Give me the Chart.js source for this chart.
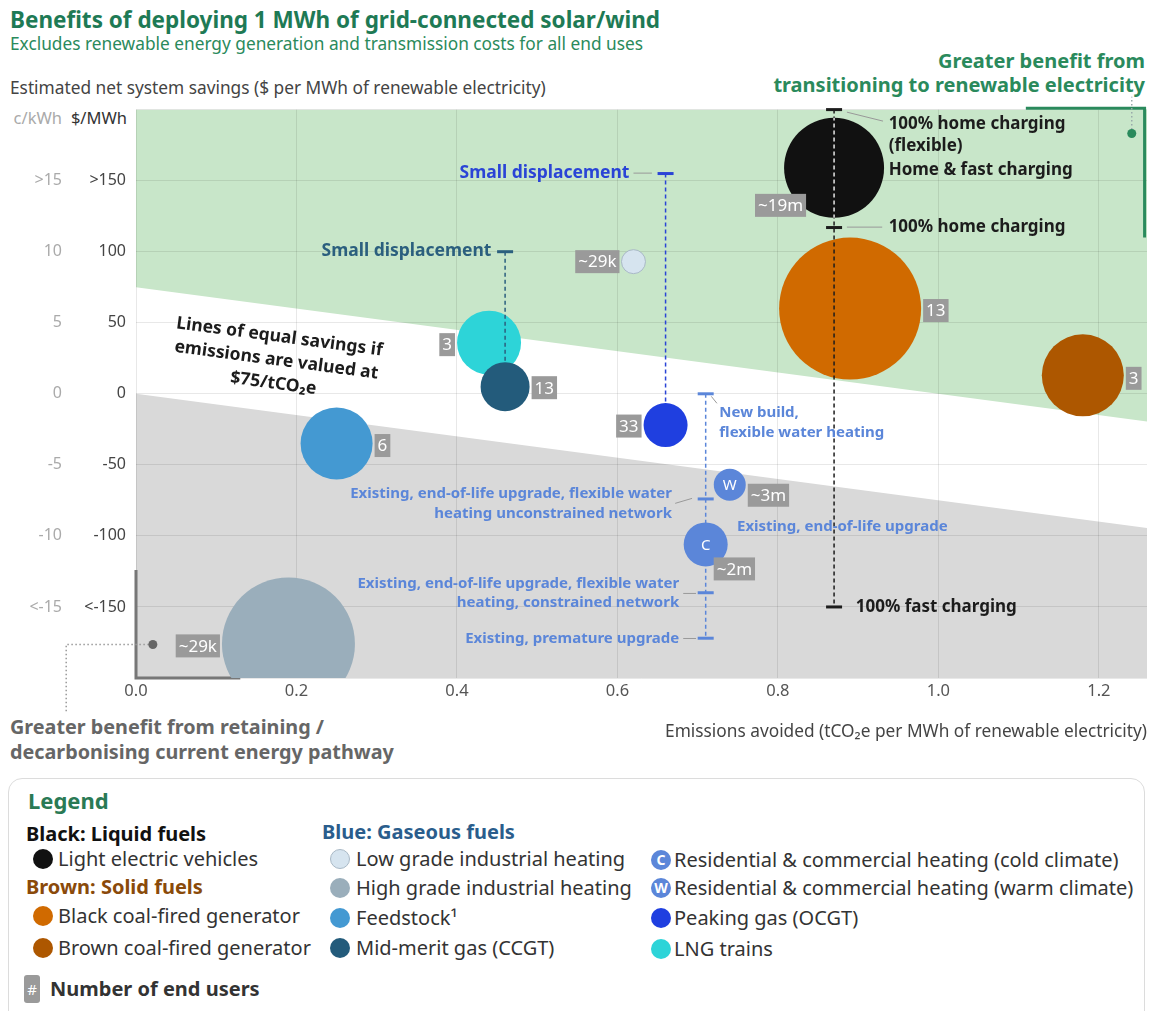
<!DOCTYPE html>
<html>
<head>
<meta charset="utf-8">
<title>Benefits of deploying 1 MWh of grid-connected solar/wind</title>
<script src="https://cdn.jsdelivr.net/npm/chart.js@4.4.1/dist/chart.umd.min.js"></script>
<style>
  html, body { margin: 0; padding: 0; background: #fff; }
  body { position: relative; width: 1153px; height: 1011px; overflow: hidden; font-family: "Noto Sans", sans-serif; }
  .t { position: absolute; white-space: nowrap; }
  #chart-box { position: absolute; left: 0; top: 90px; width: 1153px; height: 660px; }
  #legend-box { position: absolute; left: 8px; top: 778px; width: 1135px; height: 260px; border: 1.5px solid #dcdcdc; border-radius: 14px; }
  .dot { position: absolute; width: 20px; height: 20px; border-radius: 50%; box-sizing: border-box; color: #fff; font-size: 14px; line-height: 20px; text-align: center; font-weight: 700; }
  .lg { position: absolute; white-space: nowrap; font-size: 20px; line-height: 24px; color: #333; }
  .lh { position: absolute; white-space: nowrap; font-size: 20px; line-height: 24px; font-weight: 700; }
</style>
</head>
<body>
<div class="t" style="left:10px;top:5px;font-size:22.5px;line-height:30px;font-weight:700;color:#1e7a55">Benefits of deploying 1 MWh of grid-connected solar/wind</div>
<div class="t" style="left:10px;top:33px;font-size:17.3px;line-height:22px;color:#2a8a5c">Excludes renewable energy generation and transmission costs for all end uses</div>
<div class="t" style="left:10px;top:76px;font-size:17.3px;line-height:24px;color:#444">Estimated net system savings ($ per MWh of renewable electricity)</div>
<div class="t" style="right:8px;top:49px;font-size:20px;line-height:24px;font-weight:700;color:#2a8a5c;text-align:right">Greater benefit from<br>transitioning to renewable electricity</div>
<div class="t" style="right:1091px;top:107px;font-size:16.5px;line-height:22px;color:#aaa">c/kWh</div>
<div class="t" style="right:1026px;top:107px;font-size:16.5px;line-height:22px;color:#333">$/MWh</div>
<div class="t" style="left:10px;top:714px;font-size:19.8px;line-height:25px;font-weight:700;color:#666">Greater benefit from retaining /<br>decarbonising current energy pathway</div>

<div id="chart-box"><canvas id="chart"></canvas></div>

<div id="legend-box"></div>
<div class="t" style="left:28px;top:786px;font-size:22px;line-height:28px;font-weight:700;color:#2a7a55">Legend</div>
<div class="lh" style="left:26px;top:822px;color:#111">Black: Liquid fuels</div>
<div class="lh" style="left:26px;top:875px;color:#8a4a0a">Brown: Solid fuels</div>
<div class="lh" style="left:322px;top:820px;color:#2a5d8c">Blue: Gaseous fuels</div>
<div id="legend-items"></div>
<div class="t" style="left:24px;top:975px;width:16px;height:28px;border-radius:3px;background:#9a9a9a;color:#fff;font-size:15px;line-height:28px;text-align:center">#</div>
<div class="t" style="left:50px;top:977px;font-size:20px;line-height:24px;font-weight:700;color:#333">Number of end users</div>

<script>
// ---- data ----
const endUses = [
  'Light electric vehicles', 'Black coal-fired generator', 'Brown coal-fired generator',
  'Low grade industrial heating', 'High grade industrial heating', 'Feedstock¹', 'Mid-merit gas (CCGT)',
  'Residential & commercial heating (cold climate)', 'Residential & commercial heating (warm climate)',
  'Peaking gas (OCGT)', 'LNG trains'
];
const emissionsAvoided = [0.87, 0.89, 1.18, 0.62, 0.19, 0.25, 0.46, 0.71, 0.74, 0.66, 0.44];
const netSavings = [159, 60, 13, 93, -176, -35, 5, -106, -64, -22, 36];
const bubbleSize = [50, 71, 41, 12, 66.5, 36, 24.5, 22, 16, 22, 32];
const endUsers = ['~19m', '13', '3', '~29k', '~29k', '6', '13', '~2m', '~3m', '33', '3'];
const bubbleMark = ['', '', '', '', '', '', '', 'C', 'W', '', ''];

// uncertainty ranges (vertical dashed lines with caps)
const rangeX = [0.87, 0.46, 0.66, 0.71];
const rangeTop = [200, 100, 155, 0];
const rangeBottom = [-150, 5, -22, -172];
const rangeCaps = [[200, 117, -150], [100], [155], [0, -74, -140, -172]];

// lines of equal savings at $75/tCO2e, values at the two ends of the x range
const edgeX = [0, 1.26];
const greenEdge = [75, -19.5];
const greyEdge = [0, -94.5];

const xTicks = [0, 0.2, 0.4, 0.6, 0.8, 1.0, 1.2];
const yTicks = [-200, -150, -100, -50, 0, 50, 100, 150, 200];
const yTickLabels = ['', '<-150', '-100', '-50', '0', '50', '100', '>150', ''];
const centTickLabels = ['', '<-15', '-10', '-5', '0', '5', '10', '>15', ''];

// ---- styling ----
const INK = '#1c1c1c';
const TEAL = '#2b5f7e';
const BLUE = '#2a44d6';
const HEAT = '#5b86d9';
const GREEN = '#2a8a5c';
const GRID = 'rgba(0,0,0,0.09)';
const BOX = '#9a9a9a';
const bubbleColor = ['#111111', '#d06a00', '#ad5700', '#d6e4ef', '#9aaebb', '#4499d2', '#235b7b', HEAT, HEAT, '#1f3fe0', '#2dd4d8'];
const rangeColor = [INK, TEAL, BLUE, HEAT];

// where the end-user box sits against its bubble
const labelPlace = [
  { right: -28, top: 26 }, { side: 'e', dy: 2 }, { side: 'e', dy: 3 }, { side: 'w', dy: 0 },
  { side: 'w', dy: 2 }, { side: 'e', dy: 2 }, { side: 'e', dy: 1 }, { left: 8, top: 13 },
  { left: 18, top: -1 }, { side: 'w', dy: 1 }, { side: 'w', dy: 2 }
];

const notes = [
  { lines: ['100% home charging', '(flexible)'], x: 0.938, y: 189.8, align: 'left', color: INK, size: 17, lh: 22 },
  { lines: ['Home & fast charging'], x: 0.938, y: 157.4, align: 'left', color: INK, size: 17 },
  { lines: ['100% home charging'], x: 0.938, y: 117.3, align: 'left', color: INK, size: 17 },
  { lines: ['100% fast charging'], x: 0.897, y: -150.4, align: 'left', color: INK, size: 17 },
  { lines: ['Small displacement'], x: 0.443, y: 100.4, align: 'right', color: TEAL, size: 17.5 },
  { lines: ['Small displacement'], x: 0.615, y: 155.3, align: 'right', color: BLUE, size: 17.5 },
  { lines: ['New build,', 'flexible water heating'], x: 0.727, y: -13, align: 'left', color: HEAT, size: 15, lh: 20 },
  { lines: ['Existing, end-of-life upgrade, flexible water', 'heating unconstrained network'], x: 0.668, y: -70.3, align: 'right', color: HEAT, size: 15, lh: 20 },
  { lines: ['Existing, end-of-life upgrade'], x: 0.749, y: -93.8, align: 'left', color: HEAT, size: 15 },
  { lines: ['Existing, end-of-life upgrade, flexible water', 'heating, constrained network'], x: 0.677, y: -133.7, align: 'right', color: HEAT, size: 15, lh: 19 },
  { lines: ['Existing, premature upgrade'], x: 0.677, y: -172.4, align: 'right', color: HEAT, size: 15 }
];
const leaders = [
  [0.886, 198.2, 0.931, 191.9], [0.886, 117.3, 0.930, 117.3], [0.620, 155.3, 0.643, 155.3],
  [0.717, -1.8, 0.724, -6.7], [0.672, -77.1, 0.693, -73.6], [0.682, -140.5, 0.698, -140.5],
  [0.682, -172.2, 0.698, -172.2]
];
const equalSavingsNote = { lines: ['Lines of equal savings if', 'emissions are valued at', '$75/tCO₂e'], x: 0.175, y: 23.6 };
const greenCorner = [[1.109, 201], [1.257, 201], [1.257, 110]];
const greenPointer = [[1.241, 183.2], [1.241, 209]];
const greyCorner = [[0, -124], [0, -200], [0.13, -200]];
const greyPointer = [[0.021, -176.4], [-0.087, -176.4], [-0.087, -224.5]];

Chart.defaults.font.family = '"Noto Sans", sans-serif';

function poly(ctx, pts, color, width, dash) {
  ctx.beginPath();
  pts.forEach(([px, py], i) => (i ? ctx.lineTo(px, py) : ctx.moveTo(px, py)));
  ctx.strokeStyle = color;
  ctx.lineWidth = width;
  ctx.setLineDash(dash || []);
  ctx.stroke();
  ctx.setLineDash([]);
}

function dot(ctx, [px, py], r, color) {
  ctx.beginPath();
  ctx.arc(px, py, r, 0, Math.PI * 2);
  ctx.fillStyle = color;
  ctx.fill();
}

const annotate = {
  id: 'annotate',
  beforeDatasetsDraw(chart) {
    const { ctx, scales: { x, y } } = chart;
    const P = ([a, b]) => [x.getPixelForValue(a), y.getPixelForValue(b)];
    ctx.save();
    poly(ctx, greyCorner.map(P), '#777', 3);
    ctx.restore();
  },
  afterDatasetsDraw(chart) {
    const { ctx, scales: { x, y } } = chart;
    const P = ([a, b]) => [x.getPixelForValue(a), y.getPixelForValue(b)];
    ctx.save();

    // the EV range line shows light where it crosses its own black bubble
    const ev = P([emissionsAvoided[0], netSavings[0]]);
    ctx.save();
    ctx.beginPath();
    ctx.arc(ev[0], ev[1], bubbleSize[0], 0, Math.PI * 2);
    ctx.clip();
    poly(ctx, [P([rangeX[0], rangeTop[0]]), P([rangeX[0], rangeBottom[0]])], '#e6e6e6', 1.5, [4, 3]);
    ctx.restore();

    // corner markers
    poly(ctx, greenCorner.map(P), GREEN, 3);
    poly(ctx, greenPointer.map(P), '#9aa', 1.5, [1.5, 2.5]);
    dot(ctx, P(greenPointer[0]), 4.5, GREEN);
    poly(ctx, greyPointer.map(P), '#999', 1.5, [1.5, 2.5]);
    dot(ctx, P(greyPointer[0]), 4.5, '#666');

    // leader lines
    leaders.forEach(([a, b, c, d]) => poly(ctx, [P([a, b]), P([c, d])], '#999', 1));

    // text notes
    ctx.textBaseline = 'middle';
    notes.forEach((n) => {
      const [px, py] = P([n.x, n.y]);
      ctx.font = `700 ${n.size}px "Noto Sans", sans-serif`;
      ctx.fillStyle = n.color;
      ctx.textAlign = n.align;
      n.lines.forEach((line, k) => ctx.fillText(line, px, py + k * (n.lh || 20)));
    });

    // rotated note along the equal-savings lines
    const [ax, ay] = P([edgeX[0], greyEdge[0]]);
    const [bx, by] = P([edgeX[1], greyEdge[1]]);
    const [cx, cy] = P([equalSavingsNote.x, equalSavingsNote.y]);
    ctx.save();
    ctx.translate(cx, cy);
    ctx.rotate(Math.atan2(by - ay, bx - ax));
    ctx.font = '700 17.5px "Noto Sans", sans-serif';
    ctx.fillStyle = INK;
    ctx.textAlign = 'center';
    equalSavingsNote.lines.forEach((line, k) => ctx.fillText(line, 0, (k - 1) * 23.5));
    ctx.restore();

    // end-user boxes and bubble letters
    endUses.forEach((name, i) => {
      const [px, py] = P([emissionsAvoided[i], netSavings[i]]);
      const r = bubbleSize[i];
      ctx.font = '17px "Noto Sans", sans-serif';
      const w = ctx.measureText(endUsers[i]).width + 6;
      const h = 23;
      const p = labelPlace[i];
      let bx0, by0;
      if (p.side === 'e') { bx0 = px + r + 2; by0 = py + p.dy - h / 2; }
      else if (p.side === 'w') { bx0 = px - r - 2 - w; by0 = py + p.dy - h / 2; }
      else if (p.right !== undefined) { bx0 = px + p.right - w; by0 = py + p.top; }
      else { bx0 = px + p.left; by0 = py + p.top; }
      ctx.fillStyle = BOX;
      ctx.fillRect(bx0, by0, w, h);
      ctx.fillStyle = '#fff';
      ctx.textAlign = 'center';
      ctx.fillText(endUsers[i], bx0 + w / 2, by0 + h / 2 + 1);
      if (bubbleMark[i]) {
        ctx.font = '15px "Noto Sans", sans-serif';
        ctx.fillText(bubbleMark[i], px, py + 1);
      }
    });
    ctx.restore();
  }
};

const datasets = [
  { type: 'line', data: edgeX.map((v, i) => ({ x: v, y: greenEdge[i] })), fill: 'end', backgroundColor: '#c8e6c9', borderWidth: 0, pointRadius: 0, order: 20 },
  { type: 'line', data: edgeX.map((v, i) => ({ x: v, y: greyEdge[i] })), fill: 'start', backgroundColor: '#d9d9d9', borderWidth: 0, pointRadius: 0, order: 20 }
];
rangeX.forEach((v, i) => {
  datasets.push({
    type: 'line', data: [{ x: v, y: rangeTop[i] }, { x: v, y: rangeBottom[i] }],
    borderColor: rangeColor[i], borderWidth: 1.5, borderDash: [4, 3], pointRadius: 0, fill: false,
    order: i === 0 ? 3 : 9, clip: false
  });
  datasets.push({
    type: 'scatter', data: rangeCaps[i].map((c) => ({ x: v, y: c })), showLine: false,
    pointStyle: 'line', pointRadius: 8, pointBorderWidth: 3, pointBorderColor: rangeColor[i],
    order: 2, clip: false
  });
});
endUses.forEach((name, i) => {
  datasets.push({
    type: 'bubble', label: name,
    data: [{ x: emissionsAvoided[i], y: netSavings[i], r: bubbleSize[i] }],
    backgroundColor: bubbleColor[i], borderColor: i === 3 ? '#a9b9c6' : bubbleColor[i], borderWidth: i === 3 ? 1 : 0,
    order: name === 'LNG trains' ? 10 : 5, clip: 0
  });
});

const tickLabel = (labels) => (value) => {
  const k = yTicks.indexOf(value);
  return k < 0 ? '' : labels[k];
};

new Chart(document.getElementById('chart'), {
  type: 'bubble',
  data: { datasets },
  options: {
    responsive: true,
    maintainAspectRatio: false,
    animation: false,
    events: [],
    layout: { autoPadding: false, padding: { top: 0, right: 6, bottom: 0, left: 0 } },
    plugins: {
      legend: { display: false },
      tooltip: { enabled: false },
      filler: { drawTime: 'beforeDraw' }
    },
    scales: {
      x: {
        type: 'linear', min: 0, max: 1.26, offset: false,
        afterBuildTicks: (s) => { s.ticks = xTicks.map((v) => ({ value: v })); },
        afterFit: (s) => { s.height = 72; },
        grid: { color: GRID, drawTicks: false },
        border: { display: false },
        ticks: { padding: 3, color: '#555', font: { size: 16.5 }, callback: (v) => Number(v).toFixed(1) },
        title: {
          display: true, text: 'Emissions avoided (tCO₂e per MWh of renewable electricity)', align: 'end',
          color: '#444', font: { size: 17.3 }, padding: { top: 0, bottom: 8 }
        }
      },
      y: {
        type: 'linear', position: 'left', min: -200, max: 200, offset: false, weight: 0,
        afterBuildTicks: (s) => { s.ticks = yTicks.map((v) => ({ value: v })); },
        afterFit: (s) => { s.width = 70; },
        grid: { color: GRID, drawTicks: false },
        border: { display: false },
        ticks: { padding: 10, color: '#444', font: { size: 16 }, callback: tickLabel(yTickLabels) }
      },
      cents: {
        type: 'linear', position: 'left', min: -200, max: 200, offset: false, weight: 1,
        afterBuildTicks: (s) => { s.ticks = yTicks.map((v) => ({ value: v })); },
        afterFit: (s) => { s.width = 66; },
        grid: { display: false, drawTicks: false },
        border: { display: false },
        ticks: { padding: 4, color: '#aaa', font: { size: 16 }, callback: tickLabel(centTickLabels) }
      }
    }
  },
  plugins: [annotate]
});

// ---- legend ----
const legendSlot = [[0, 859], [0, 916], [0, 948], [1, 859], [1, 888], [1, 918], [1, 948], [2, 860], [2, 888], [2, 918], [2, 949]];
const dotX = [33, 330, 651];
const textX = [58, 356, 674];
const holder = document.getElementById('legend-items');
endUses.forEach((name, i) => {
  const [col, cy] = legendSlot[i];
  const d = document.createElement('div');
  d.className = 'dot';
  d.style.left = dotX[col] + 'px';
  d.style.top = (cy - 10) + 'px';
  d.style.background = bubbleColor[i];
  if (i === 3) d.style.border = '1px solid #a9b9c6';
  d.textContent = bubbleMark[i];
  holder.appendChild(d);
  const t = document.createElement('div');
  t.className = 'lg';
  t.style.left = textX[col] + 'px';
  t.style.top = (cy - 12) + 'px';
  t.textContent = name;
  holder.appendChild(t);
});
</script>
</body>
</html>
